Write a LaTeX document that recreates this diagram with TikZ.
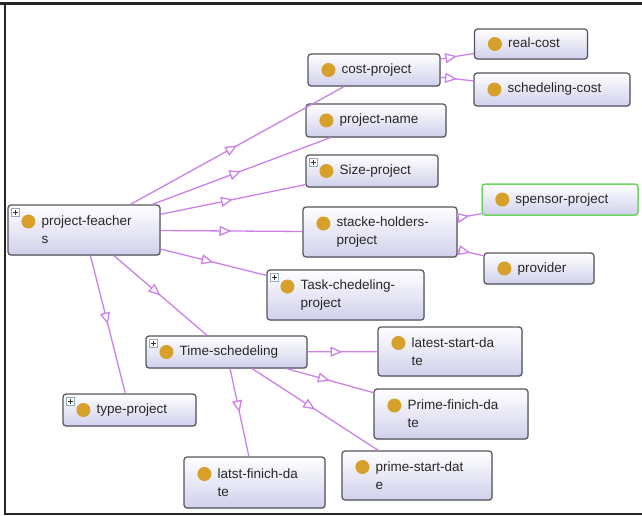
\documentclass[tikz,border=0pt]{standalone}
\usepackage{fontspec}
\setmainfont{Liberation Sans}
\usetikzlibrary{arrows.meta,decorations.markings,shadows}
\definecolor{edgec}{RGB}{204,128,232}
\definecolor{boxb}{RGB}{84,84,94}
\definecolor{boxbot}{RGB}{208,208,236}
\definecolor{dotc}{RGB}{214,160,42}
\definecolor{txt}{RGB}{40,40,40}
\definecolor{greenb}{RGB}{110,214,100}
\definecolor{plusb}{RGB}{150,170,190}
\tikzset{
  cbox/.style={draw=boxb, line width=1.2pt, rounded corners=3pt, top color=white, bottom color=boxbot, inner sep=0pt,
    drop shadow={shadow xshift=0.8pt, shadow yshift=-0.9pt, opacity=0.25}},
  dotn/.style={circle, fill=dotc, minimum size=14pt, inner sep=0pt},
  lbl/.style={font=\fontsize{13.5}{18}\selectfont, text=txt, inner sep=0pt, anchor=west},
  lblone/.style={lbl, text height=9.5pt, text depth=2.5pt},
  lbltwo/.style={lbl, align=left},
  plusn/.style={draw=plusb, fill=white, line width=0.6pt, minimum size=8pt, inner sep=0pt},
  rel/.style={draw=edgec, line width=1.3pt,
    decoration={markings, mark=at position 0.5 with {\arrow{Triangle[length=12pt,width=10pt,fill=white]}}},
    postaction=decorate},
  framel/.style={draw=black!85, line cap=rect},
}
\newcommand\classbox[6]{%
  \node[cbox, minimum width=#4pt, minimum height=#5pt] (#1) at (#2,#3) {};
  \node[dotn] (#1-d) at ([xshift=21pt]#1.west) {};
  \node[lblone] (#1-t) at ([xshift=34pt]#1.west) {#6};}
\newcommand\classboxii[7]{%
  \node[cbox, minimum width=#4pt, minimum height=#5pt] (#1) at (#2,#3) {};
  \node[dotn] (#1-d) at ([xshift=21pt,yshift=8.5pt]#1.west) {};
  \node[lbltwo] (#1-t) at ([xshift=34pt]#1.west) {#6\\#7};}
\newcommand\plusmark[1]{%
  \node[plusn] (#1-p) at ([xshift=8pt,yshift=-8pt]#1.north west) {};
  \draw[line width=0.7pt, black!80] ([xshift=-2.5pt]#1-p.center) -- ([xshift=2.5pt]#1-p.center);
  \draw[line width=0.7pt, black!80] ([yshift=-2.5pt]#1-p.center) -- ([yshift=2.5pt]#1-p.center);}
\begin{document}
\begin{tikzpicture}[x=1pt,y=-1pt]
\useasboundingbox (0,0) rectangle (642,516);
% frame
\coordinate (ftl) at (0,3.5);
\coordinate (ftr) at (642,3.5);
\coordinate (fl) at (5,3.5);
\coordinate (fbl) at (5,514);
\coordinate (fbr) at (642,514);
\draw[framel, line width=2.5pt] (ftl) -- (ftr);
\draw[framel, line width=1.5pt] (fl) -- (fbl);
\draw[framel, line width=2pt] (fbl) -- (fbr);

% boxes
\classboxii{pf}{84}{230}{152}{50}{project-feacher}{s}
\plusmark{pf}
\classbox{cost}{374}{70}{132}{32}{cost-project}
\classbox{real}{531}{44}{113}{30}{real-cost}
\classbox{sched}{552}{89.5}{156}{33}{schedeling-cost}
\classbox{pname}{376}{120.5}{140}{33}{project-name}
\classbox{size}{372}{171}{132}{32}{Size-project}
\plusmark{size}
\classboxii{stack}{380}{232}{154}{50}{stacke-holders-}{project}
\node[cbox, draw=greenb, line width=1.5pt, minimum width=156pt, minimum height=31pt] (spons) at (560,199.5) {};
\node[dotn] (spons-d) at ([xshift=21pt]spons.west) {};
\node[lblone] (spons-t) at ([xshift=34pt]spons.west) {spensor-project};
\classbox{prov}{539}{268.5}{110}{31}{provider}
\classboxii{task}{345.5}{295}{157}{50}{Task-chedeling-}{project}
\plusmark{task}
\classbox{time}{226.5}{352}{161}{32}{Time-schedeling}
\plusmark{time}
\classbox{type}{129.5}{410}{133}{32}{type-project}
\plusmark{type}
\classboxii{lsd}{450}{351.5}{144}{49}{latest-start-da}{te}
\classboxii{pfd}{451}{414}{154}{50}{Prime-finich-da}{te}
\classboxii{psd}{417}{475.5}{150}{49}{prime-start-dat}{e}
\classboxii{lfd}{254.5}{482.5}{141}{51}{latst-finich-da}{te}

% relations
\draw[rel] (pf) -- (cost);
\draw[rel] (pf) -- (pname);
\draw[rel] (pf) -- (size);
\draw[rel] (pf) -- (stack);
\draw[rel] (pf) -- (task);
\draw[rel] (pf) -- (time);
\draw[rel] (pf) -- (type);
\draw[rel] (cost) -- (real);
\draw[rel] (cost) -- (sched);
\draw[rel] (stack) -- (spons);
\draw[rel] (stack) -- (prov);
\draw[rel] (time) -- (lsd);
\draw[rel] (time) -- (pfd);
\draw[rel] (time) -- (psd);
\draw[rel] (time) -- (lfd);
\end{tikzpicture}
\end{document}
